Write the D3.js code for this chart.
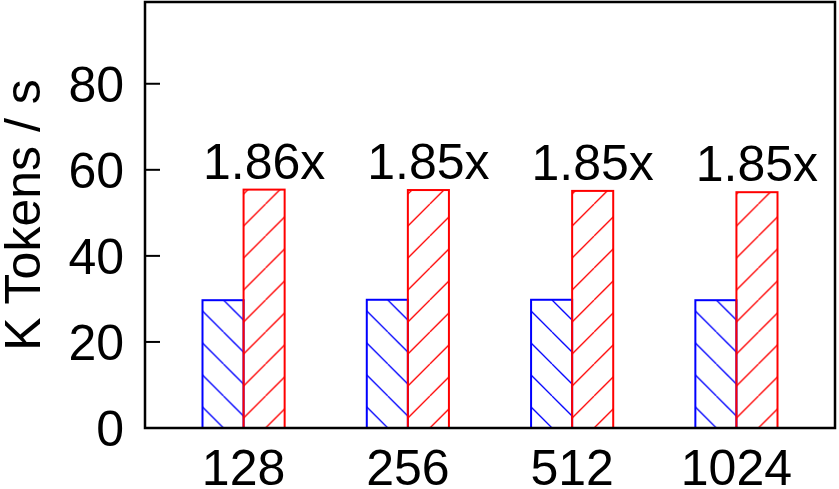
<!DOCTYPE html>
<html>
<head>
<meta charset="utf-8">
<script src="https://cdn.jsdelivr.net/npm/d3@7"></script>
<style>
  body { margin: 0; background: #fff; }
  text { font-family: "Liberation Sans", Arial, sans-serif; fill: #000; }
</style>
</head>
<body>
<svg id="chart"></svg>
<script>
var categories = ["128", "256", "512", "1024"];
var baseValues = [29.7, 29.8, 29.8, 29.7];
var fastValues = [55.4, 55.3, 55.1, 54.8];
var speedupLabels = ["1.86x", "1.85x", "1.85x", "1.85x"];
var yTicks = [0, 20, 40, 60, 80];

var width = 839, height = 489;
var plotLeft = 145, plotRight = 835, plotTop = 2, plotBottom = 428;

var svg = d3.select("#chart")
    .attr("width", width)
    .attr("height", height);

var x = d3.scaleLinear().domain([-0.6, categories.length - 0.4]).range([plotLeft, plotRight]);
var y = d3.scaleLinear().domain([0, 99]).range([plotBottom, plotTop]);
var barW = 0.25;

// one hatch pattern per bar so the lines start at the bar's bottom-left
var defs = svg.append("defs");
var series = [
    {name: "base", values: baseValues, color: "#0000ff", off: -barW, path: "M-11,0 L21,32 M21,0 L53,32"},
    {name: "fast", values: fastValues, color: "#ff0000", off: 0, path: "M22,0 L-10,32 M54,0 L22,32"}
];

series.forEach(function(s) {
    categories.forEach(function(c, i) {
        defs.append("pattern")
            .attr("id", s.name + i)
            .attr("patternUnits", "userSpaceOnUse")
            .attr("x", x(i + s.off))
            .attr("y", plotBottom)
            .attr("width", 32)
            .attr("height", 32)
            .append("path")
            .attr("d", s.path)
            .attr("stroke", s.color)
            .attr("stroke-width", 1.3)
            .attr("fill", "none");
    });

    svg.append("g").selectAll("rect")
        .data(s.values)
        .join("rect")
        .attr("x", function(d, i) { return x(i + s.off); })
        .attr("y", function(d) { return y(d); })
        .attr("width", x(barW) - x(0))
        .attr("height", function(d) { return y(0) - y(d); })
        .attr("fill", function(d, i) { return "url(#" + s.name + i + ")"; })
        .attr("stroke", s.color)
        .attr("stroke-width", 2);
});

// speedup labels above the red bars
svg.append("g").selectAll("text")
    .data(speedupLabels)
    .join("text")
    .attr("x", function(d, i) { return x(i + barW / 2); })
    .attr("y", function(d, i) { return y(fastValues[i]) - 11; })
    .attr("text-anchor", "middle")
    .style("font-size", "50px")
    .text(function(d) { return d; });

// frame
svg.append("rect")
    .attr("x", plotLeft)
    .attr("y", plotTop)
    .attr("width", plotRight - plotLeft)
    .attr("height", plotBottom - plotTop)
    .attr("fill", "none")
    .attr("stroke", "#000")
    .attr("stroke-width", 2.5);

// y ticks (inside) and labels
var yAxis = svg.append("g");
yAxis.selectAll("line")
    .data(yTicks)
    .join("line")
    .attr("x1", plotLeft)
    .attr("x2", plotLeft + 15)
    .attr("y1", function(d) { return y(d); })
    .attr("y2", function(d) { return y(d); })
    .attr("stroke", "#000")
    .attr("stroke-width", 2);
yAxis.selectAll("text")
    .data(yTicks)
    .join("text")
    .attr("x", 124)
    .attr("y", function(d) { return y(d) + 18; })
    .attr("text-anchor", "end")
    .style("font-size", "50px")
    .text(function(d) { return d; });

// x labels
svg.append("g").selectAll("text")
    .data(categories)
    .join("text")
    .attr("x", function(d, i) { return x(i); })
    .attr("y", 485)
    .attr("text-anchor", "middle")
    .style("font-size", "50px")
    .text(function(d) { return d; });

// y axis title
svg.append("text")
    .attr("transform", "translate(40,215) rotate(-90)")
    .attr("text-anchor", "middle")
    .style("font-size", "50px")
    .text("K Tokens / s");
</script>
</body>
</html>
